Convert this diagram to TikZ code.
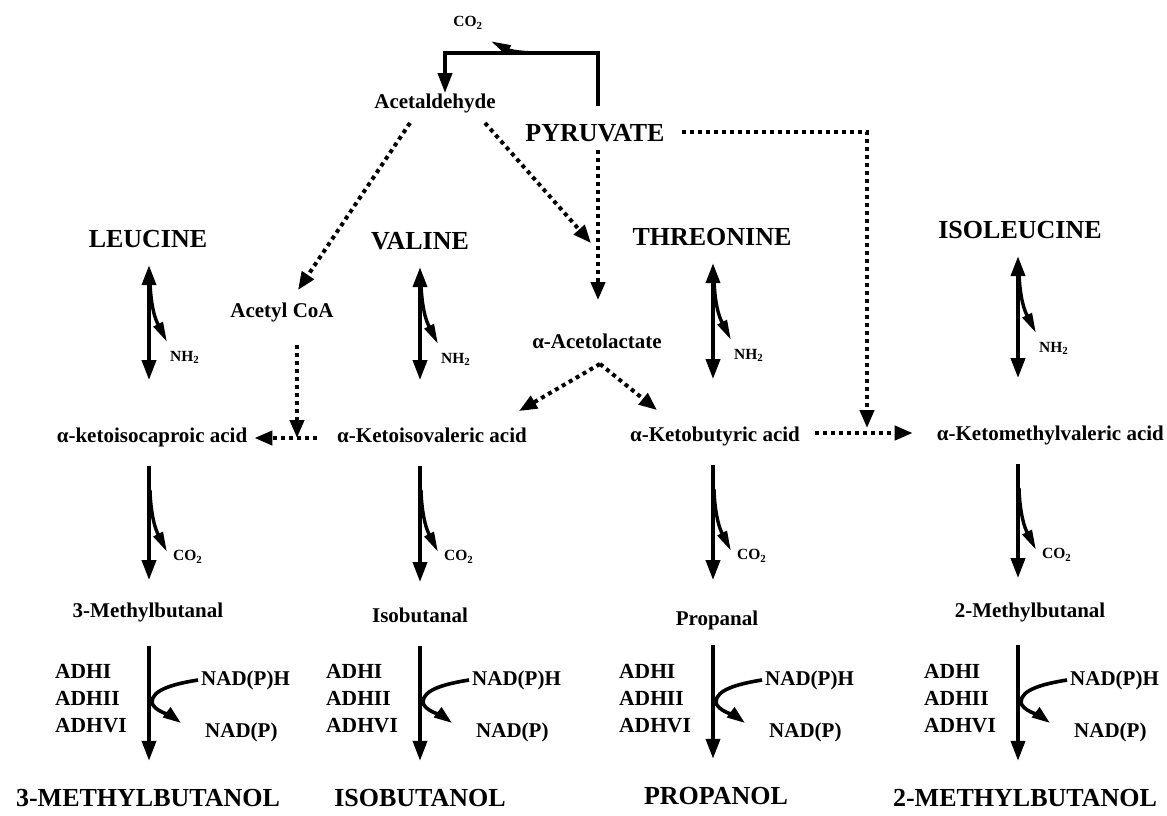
\documentclass[tikz,border=0pt]{standalone}
\usepackage{fontspec}
\setmainfont{Liberation Serif}
\usetikzlibrary{arrows.meta,calc}

\tikzset{
  big/.style={font=\fontsize{26}{28}\selectfont\bfseries, inner sep=0pt, text height=18pt, text depth=0pt},
  mid/.style={font=\fontsize{21}{23}\selectfont\bfseries, inner sep=0pt, text height=15pt, text depth=4.5pt},
  small/.style={font=\fontsize{15.5}{17}\selectfont\bfseries, inner sep=0pt, text height=11pt, text depth=3pt},
  adh/.style={font=\fontsize{21.5}{27}\selectfont\bfseries, inner sep=0pt, align=left},
  conv/.style={line width=3.8pt, -{Triangle[length=20pt,width=14pt]}},
  revconv/.style={line width=3.8pt, {Triangle[length=20pt,width=14pt]}-{Triangle[length=20pt,width=14pt]}},
  side/.style={line width=3.4pt, -{Triangle[length=20pt,width=10pt]}},
  dots/.style={line width=4pt, dash pattern=on 4pt off 4pt, -{Triangle[length=18pt,width=14pt]}},
}

\begin{document}
\begin{tikzpicture}[x=1pt,y=-1pt]
\useasboundingbox (0,0) rectangle (1167,816);

% shafts of the four columns
\foreach \c/\x in {1/149,2/420,3/713,4/1018}
  \coordinate (s\c) at (\x,0);

% top part
\node[small] (co2t) at (468,23) {CO\textsubscript{2}};
\node[mid] (acd) at (435,103) {Acetaldehyde};
\node[big] (pyr) at (595,132) {PYRUVATE};
\node[mid] (acoa) at (282,312) {Acetyl CoA};
\node[mid] (alac) at (597,343) {α-Acetolactate};

% amino acids
\node[big] (aa1) at (148,238) {LEUCINE};
\node[big] (aa2) at (420,240) {VALINE};
\node[big] (aa3) at (712,236) {THREONINE};
\node[big] (aa4) at (1020,229) {ISOLEUCINE};

% keto acids
\node[mid] (ka1) at (152,437) {α-ketoisocaproic acid};
\node[mid] (ka2) at (432,437) {α-Ketoisovaleric acid};
\node[mid] (ka3) at (715,436) {α-Ketobutyric acid};
\node[mid, anchor=east] (ka4) at (1164,435) {α-Ketomethylvaleric acid};

% aldehydes
\node[mid] (al1) at (148,612) {3-Methylbutanal};
\node[mid] (al2) at (420,617) {Isobutanal};
\node[mid] (al3) at (717,620) {Propanal};
\node[mid] (al4) at (1030,612) {2-Methylbutanal};

% alcohols
\node[big] (pr1) at (148,797) {3-METHYLBUTANOL};
\node[big] (pr2) at (420,797) {ISOBUTANOL};
\node[big] (pr3) at (716,795) {PROPANOL};
\node[big] (pr4) at (1025,797) {2-METHYLBUTANOL};

% pyruvate -> acetaldehyde + CO2
\coordinate (loop) at (445,53);
\draw[conv] ($(pyr.north)+(3,-17)$) |- (loop) -- (loop |- acd.north);
\draw[side] ($(loop)+(95,0)$) .. controls +(-30,0) and +(14,7) .. ($(co2t.south east)+(8,11)$);

% dotted routes
\draw[dots] ($(acd.south)+(-25,10)$) -- ($(acoa.north)+(16,-12)$);
\draw[dots] ($(acd.south)+(50,10)$) -- ($(alac.north)+(-6,-90)$);
\draw[dots] ($(pyr.south)+(3,9)$) -- ($(alac.north)+(1,-33)$);
\draw[dots] ($(alac.south)+(3,11)$) -- ($(ka2.north east)+(-8,-16)$);
\draw[dots] ($(alac.south)+(3,11)$) -- ($(ka3.north)+(-58,-16)$);
\coordinate (join) at (867,433);
\draw[dots] ($(pyr.east)+(17,0)$) -| ([yshift=5pt]join);
\draw[dots] (ka3.east |- join) ++(15,0) -- ($(ka4.west |- join)+(-24,0)$);
\coordinate (cross) at (297,438);
\draw[dots] ($(acoa.south -| cross)+(0,23)$) -- (cross);
\draw[dots] ($(ka2.west)+(-20,1)$) -- ($(ka1.east)+(7,1)$);

% the four columns
\foreach \c/\p/\q in {1/22/24, 2/25/19, 3/30/15, 4/24/23}{
  % transamination
  \draw[revconv, shorten <=18pt, shorten >=47pt] (s\c |- aa\c.south) -- (s\c |- ka\c.north);
  \node[small, anchor=west] (nh\c) at ($(s\c |- aa\c.south)+(21,110)$) {NH\textsubscript{2}};
  \draw[side] ($(s\c |- aa\c.south)+(1,34)$) .. controls +(1,34) and +(-8,-16) .. ($(nh\c.north west)+(-3,-8)$);
  % decarboxylation
  \draw[conv, shorten <=19pt, shorten >=\p pt] (s\c |- ka\c.south) -- (s\c |- al\c.north);
  \node[small, anchor=west] (co\c) at ($(s\c |- ka\c.south)+(24,110)$) {CO\textsubscript{2}};
  \draw[side] ($(s\c |- ka\c.south)+(1,43)$) .. controls +(1,34) and +(-8,-16) .. ($(co\c.west)+(-6,-5)$);
  % reduction
  \draw[conv, shorten <=\q pt, shorten >=27pt] (s\c |- al\c.south) -- (s\c |- pr\c.north);
  \node[adh, anchor=west] (adh\c) at ($(s\c)+(-94,699)$) {ADHI\\ADHII\\ADHVI};
  \node[mid, anchor=west] (nadh\c) at ($(s\c)+(52,680)$) {NAD(P)H};
  \node[mid, anchor=west] (nad\c) at ($(s\c)+(56,732)$) {NAD(P)};
  \draw[line width=3.6pt, -{Triangle[length=18pt,width=12pt]}] ([xshift=-3pt]nadh\c.west) .. controls +(-25,4) and +(0,-12) .. ($(s\c)+(3,702)$) .. controls +(0,8) and +(-8,-6) .. ($(nad\c.west)+(-24,-9)$);
}
\end{tikzpicture}
\end{document}
